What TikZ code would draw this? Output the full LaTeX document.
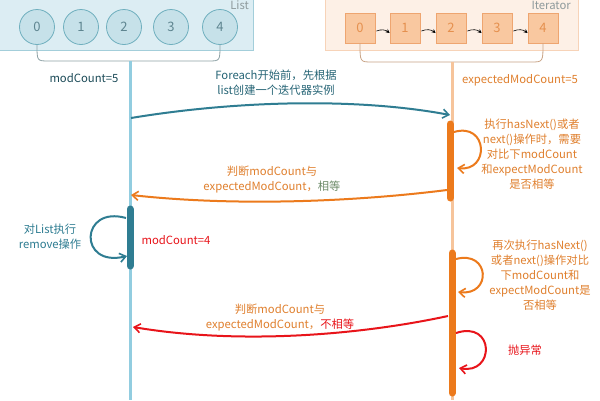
\documentclass[tikz,border=0pt]{standalone}
\usepackage{fontspec}
\setmainfont{Noto Sans CJK SC}
\usetikzlibrary{arrows.meta}
\definecolor{listfill}{HTML}{DCEDF3}
\definecolor{listborder}{HTML}{A3CEDA}
\definecolor{circfill}{HTML}{C6E1E9}
\definecolor{circborder}{HTML}{6FAFBE}
\definecolor{circtext}{HTML}{5E8590}
\definecolor{teal}{HTML}{2F7D92}
\definecolor{leftlife}{HTML}{92CDE0}
\definecolor{orng}{HTML}{EC7A1C}
\definecolor{lblorng}{HTML}{E0802E}
\definecolor{rightlife}{HTML}{F6C49B}
\definecolor{iterfill}{HTML}{FDF0E6}
\definecolor{iterborder}{HTML}{F7D3B8}
\definecolor{sqfill}{HTML}{F9C8A0}
\definecolor{sqborder}{HTML}{EEA570}
\definecolor{sqtext}{HTML}{E5904E}
\definecolor{redc}{HTML}{E8141A}
\definecolor{greyc}{HTML}{8E9A9C}
\definecolor{greenc}{HTML}{6E8C6A}
\definecolor{bracel}{HTML}{8FA3A7}
\definecolor{bracer}{HTML}{C9A486}
\tikzset{
  txt/.style={font=\fontsize{11.3}{15}\selectfont, align=center, inner sep=1pt},
  elem/.style={circle, minimum size=35pt, inner sep=0pt, fill=circfill, draw=circborder, line width=0.8pt, text=circtext, font=\fontsize{13}{13}\selectfont},
  sq/.style={rectangle, minimum size=30pt, inner sep=0pt, fill=sqfill, draw=sqborder, line width=0.8pt, text=sqtext, font=\fontsize{13}{13}\selectfont},
  tip/.style={-{Straight Barb[length=6pt,width=9pt,line width=1.6pt]}},
  actbar/.style={line width=7pt, line cap=round},
  lifel/.style={line width=3pt},
}
\begin{document}
\begin{tikzpicture}[x=1pt,y=-1pt]
\useasboundingbox (0,0) rectangle (600,400);
\fill[white] (0,0) rectangle (600,400);
% List box
\draw[fill=listfill, draw=listborder, line width=0.8pt] (-5,-5) rectangle (253,50);
\node[txt, text=greyc, anchor=east] (listlbl) at (250,5) {List};
\foreach \i/\x in {0/37,1/81,2/124,3/171,4/220} {
  \node[elem] (c\i) at (\x,27) {\i};
}
% Iterator box
\draw[fill=iterfill, draw=iterborder, line width=0.8pt] (325,-5) rectangle (578,50);
\node[txt, text=greyc, anchor=east] (iterlbl) at (572,5) {Iterator};
\foreach \i/\x in {0/360,1/405,2/451,3/497,4/543} {
  \node[sq] (s\i) at (\x,28) {\i};
}
\foreach \a/\b in {s0/s1,s1/s2,s2/s3,s3/s4} {
  \draw[black, line width=0.6pt, -{Stealth[length=4pt,width=4pt]}] ([xshift=1pt,yshift=-3pt]\a.east) to[bend left=30] ([yshift=-5pt]\b.west);
}
% braces
\draw[bracel, line width=0.8pt] (c0.south) .. controls (37,61) .. (49,61) -- (208,61) .. controls (220,61) .. (c4.south);
\draw[bracer, line width=0.8pt] (s0.south) .. controls (360,62) .. (372,62) -- (531,62) .. controls (543,62) .. (s4.south);
% lifelines
\coordinate (lt) at (130,61);
\coordinate (lb) at (130,400);
\coordinate (rt) at (452,62);
\coordinate (rb) at (452,400);
\draw[leftlife, lifel] (lt) -- (lb);
\draw[rightlife, lifel] (rt) -- (rb);
\node[txt, text=teal!60!black] (mc5) at (84,78) {modCount=5};
\node[txt, text=lblorng] (emc5) at (520,80) {expectedModCount=5};
% arrow 1
\coordinate (a1s) at (131,118);
\coordinate (a1e) at (450,115);
\draw[teal, line width=2pt, tip] (a1s) .. controls (240,100) and (360,98) .. (a1e);
\node[txt, text=teal!80!black] (l1) at (276,83) {Foreach开始前，先根据\\list创建一个迭代器实例};
% right activation 1
\coordinate (r1t) at (450,124);
\coordinate (r1b) at (450,198);
\draw[orng, actbar] (r1t) -- (r1b);
\coordinate (r1ls) at (454,132);
\coordinate (r1le) at (457,168);
\draw[orng, line width=2pt, tip] (r1ls) .. controls (488,122) and (490,172) .. (r1le);
\node[txt, text=lblorng] (l2) at (532,154) {执行hasNext()或者\\next()操作时，需要\\对比下modCount\\和expectModCount\\是否相等};
% arrow 2
\coordinate (a2s) at (447,190);
\coordinate (a2e) at (131,195);
\draw[orng, line width=2pt, tip] (a2s) .. controls (360,201) and (240,207) .. (a2e);
\node[txt, text=lblorng] (l3) at (272,180) {判断modCount与\\expectedModCount，\textcolor{greenc}{相等}};
% left activation
\coordinate (l1t) at (130,209);
\coordinate (l1b) at (130,266);
\draw[teal, actbar] (l1t) -- (l1b);
\coordinate (llls) at (126,218);
\coordinate (llle) at (127,256);
\draw[teal, line width=2pt, tip] (llls) .. controls (80,205) and (78,268) .. (llle);
\node[txt, text=teal] (l4) at (50,237) {对List执行\\remove操作};
\node[txt, text=redc] (mc4) at (176,240) {modCount=4};
% right activation 2
\coordinate (r2t) at (452,253);
\coordinate (r2b) at (452,393);
\draw[orng, actbar] (r2t) -- (r2b);
\coordinate (r2ls) at (456,259);
\coordinate (r2le) at (458,292);
\draw[orng, line width=2pt, tip] (r2ls) .. controls (490,250) and (492,296) .. (r2le);
\node[txt, text=lblorng] (l5) at (540,275) {再次执行hasNext()\\或者next()操作对比\\下modCount和\\expectModCount是\\否相等};
% arrow 3
\coordinate (a3s) at (448,316);
\coordinate (a3e) at (133,327);
\draw[redc, line width=2pt, tip] (a3s) .. controls (360,335) and (240,345) .. (a3e);
\node[txt, text=lblorng] (l6) at (280,318) {判断modCount与\\expectedModCount，\textcolor{redc}{不相等}};
% red self loop
\coordinate (r3ls) at (456,333);
\coordinate (r3le) at (459,368);
\draw[redc, line width=2pt, tip] (r3ls) .. controls (495,320) and (495,375) .. (r3le);
\node[txt, text=redc] (l7) at (525,350) {抛异常};
\end{tikzpicture}
\end{document}
